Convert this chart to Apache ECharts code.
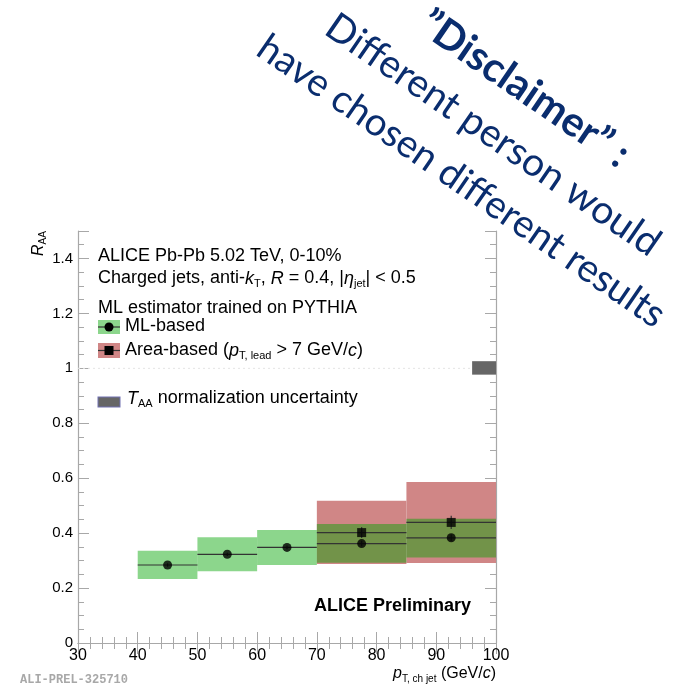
<!DOCTYPE html>
<html>
<head>
<meta charset="utf-8">
<script src="https://cdn.jsdelivr.net/npm/echarts@6/dist/echarts.min.js"></script>
<style>
  html, body { margin: 0; padding: 0; background: #fff; }
  #chart { width: 681px; height: 685px; }
</style>
</head>
<body>
<div id="chart"></div>
<script>
// pT bins (GeV/c)
const mlBinLo = [40, 50, 60, 70, 85];
const mlBinHi = [50, 60, 70, 85, 100];
const mlCenter = [45, 55, 65, 77.5, 92.5];
// ML-based R_AA with systematic band
const mlValue = [0.284, 0.323, 0.348, 0.362, 0.383];
const mlSysLo = [0.233, 0.261, 0.284, 0.292, 0.311];
const mlSysHi = [0.336, 0.385, 0.411, 0.433, 0.452];
const mlStat = [0.006, 0.006, 0.007, 0.010, 0.012];

// Area-based R_AA (pT,lead > 7 GeV/c)
const areaBinLo = [70, 85];
const areaBinHi = [85, 100];
const areaCenter = [77.5, 92.5];
const areaValue = [0.402, 0.439];
const areaSysLo = [0.288, 0.291];
const areaSysHi = [0.518, 0.586];
const areaStat = [0.020, 0.024];

// T_AA normalization uncertainty box at unity
const taaBox = [96, 100, 0.977, 1.026];

const xTicks = [30, 40, 50, 60, 70, 80, 90, 100];
const yTicks = [0, 0.2, 0.4, 0.6, 0.8, 1, 1.2, 1.4];

const GREEN = 'rgba(0,164,0,0.45)';
const RED = 'rgb(208,134,134)';
const FONT = '"Liberation Sans", Arial, sans-serif';
const FS = 18;

function boxSeries(name, lo, hi, ylo, yhi, color, z) {
  return {
    name, type: 'custom', z,
    data: lo.map((v, i) => [v, hi[i], ylo[i], yhi[i]]),
    renderItem(params, api) {
      const p0 = api.coord([api.value(0), api.value(3)]);
      const p1 = api.coord([api.value(1), api.value(2)]);
      return { type: 'rect', shape: { x: p0[0], y: p0[1], width: p1[0] - p0[0], height: p1[1] - p0[1] },
               style: { fill: color } };
    }
  };
}

function errSeries(name, center, lo, hi, val, stat, z) {
  return {
    name, type: 'custom', z,
    data: center.map((c, i) => [c, lo[i], hi[i], val[i], stat[i]]),
    renderItem(params, api) {
      const y = api.value(3), s = api.value(4);
      const a = api.coord([api.value(1), y]);
      const b = api.coord([api.value(2), y]);
      const u = api.coord([api.value(0), y + s]);
      const d = api.coord([api.value(0), y - s]);
      const st = { stroke: '#333', lineWidth: 1.2 };
      return { type: 'group', children: [
        { type: 'line', shape: { x1: a[0], y1: a[1], x2: b[0], y2: b[1] }, style: st },
        { type: 'line', shape: { x1: u[0], y1: u[1], x2: d[0], y2: d[1] }, style: st }
      ]};
    }
  };
}

const axisCommon = {
  axisLine: { show: true, lineStyle: { color: '#a8a8a8', width: 1.2 } },
  splitLine: { show: false }
};
const tickStyle = { color: '#a8a8a8' };

const chart = echarts.init(document.getElementById('chart'), null, { renderer: 'canvas' });

const disclaimerColor = '#0a2d6e';
const discFont = 'Lato, "Open Sans", sans-serif';

chart.setOption({
  animation: false,
  backgroundColor: '#fff',
  grid: { left: 78, right: 185, top: 231, bottom: 42 },
  xAxis: [
    Object.assign({}, axisCommon, {
      type: 'value', min: xTicks[0], max: xTicks[xTicks.length - 1], interval: 10, position: 'bottom',
      axisTick: { show: true, inside: true, length: 11, lineStyle: tickStyle },
      minorTick: { show: true, splitNumber: 5, length: 6, lineStyle: tickStyle },
      axisLabel: { color: '#000', fontFamily: FONT, fontSize: 16, margin: 5 }
    }),
    Object.assign({}, axisCommon, {
      type: 'value', min: xTicks[0], max: xTicks[xTicks.length - 1], interval: 10, position: 'top',
      axisTick: { show: true, inside: true, length: 11, lineStyle: tickStyle },
      minorTick: { show: true, splitNumber: 5, length: 6, lineStyle: tickStyle },
      axisLabel: { show: false }
    })
  ],
  yAxis: [
    Object.assign({}, axisCommon, {
      type: 'value', min: 0, max: 1.5, interval: 0.2, position: 'left',
      axisTick: { show: true, inside: true, length: 11, lineStyle: tickStyle },
      minorTick: { show: true, splitNumber: 4, length: 6, lineStyle: tickStyle },
      axisLabel: { color: '#000', fontFamily: FONT, fontSize: 15, margin: 5, showMaxLabel: false,
                   formatter: v => yTicks.indexOf(+v.toFixed(1)) >= 0 ? String(+v.toFixed(1)) : '' }
    }),
    Object.assign({}, axisCommon, {
      type: 'value', min: 0, max: 1.5, interval: 0.2, position: 'right',
      axisTick: { show: true, inside: true, length: 11, lineStyle: tickStyle },
      minorTick: { show: true, splitNumber: 4, length: 6, lineStyle: tickStyle },
      axisLabel: { show: false }
    })
  ],
  series: [
    // faint reference line at unity
    { name: 'unity', type: 'line', z: 1, symbol: 'none', silent: true,
      lineStyle: { color: '#e4e4e4', type: [2, 3], width: 1 },
      data: [[xTicks[0], 1], [xTicks[xTicks.length - 1], 1]] },
    boxSeries('Area-based sys', areaBinLo, areaBinHi, areaSysLo, areaSysHi, RED, 2),
    boxSeries('ML-based sys', mlBinLo, mlBinHi, mlSysLo, mlSysHi, GREEN, 3),
    boxSeries('TAA', [taaBox[0]], [taaBox[1]], [taaBox[2]], [taaBox[3]], '#666', 3),
    errSeries('Area-based err', areaCenter, areaBinLo, areaBinHi, areaValue, areaStat, 4),
    errSeries('ML-based err', mlCenter, mlBinLo, mlBinHi, mlValue, mlStat, 4),
    { name: 'Area-based', type: 'scatter', z: 5, symbol: 'rect', symbolSize: 9,
      itemStyle: { color: '#000' }, data: areaCenter.map((c, i) => [c, areaValue[i]]) },
    { name: 'ML-based', type: 'scatter', z: 5, symbol: 'circle', symbolSize: 9,
      itemStyle: { color: '#000' }, data: mlCenter.map((c, i) => [c, mlValue[i]]) }
  ],
  graphic: [
    // y-axis title
    { type: 'text', x: 48, y: 256, rotation: Math.PI / 2,
      style: { text: '{i|R}{s|AA}', fill: '#000', verticalAlign: 'bottom',
               rich: { i: { fontFamily: FONT, fontStyle: 'italic', fontSize: 16 },
                       s: { fontFamily: FONT, fontSize: 10, padding: [8, 0, 0, 0] } } } },
    // x-axis title
    { type: 'text', x: 496, y: 684,
      style: { text: '{i|p}{s|T, ch jet}{n| (GeV/}{i|c}{n|)}', fill: '#000', align: 'right', verticalAlign: 'bottom',
               rich: { i: { fontFamily: FONT, fontStyle: 'italic', fontSize: 16 },
                       n: { fontFamily: FONT, fontSize: 16 },
                       s: { fontFamily: FONT, fontSize: 10, padding: [10, 0, 0, 0] } } } },
    // header text
    { type: 'text', x: 98, y: 247,
      style: { text: 'ALICE Pb-Pb 5.02 TeV, 0-10%', fill: '#000', font: FS + 'px ' + FONT } },
    { type: 'text', x: 98, y: 268,
      style: { text: '{n|Charged jets, anti-}{i|k}{s|T}{n|, }{i|R}{n| = 0.4, |}{i|η}{s|jet}{n|| < 0.5}', fill: '#000',
               rich: { n: { fontFamily: FONT, fontSize: FS },
                       i: { fontFamily: FONT, fontStyle: 'italic', fontSize: FS },
                       s: { fontFamily: FONT, fontSize: 11, padding: [10, 0, 0, 0] } } } },
    { type: 'text', x: 98, y: 299,
      style: { text: 'ML estimator trained on PYTHIA', fill: '#000', font: FS + 'px ' + FONT } },
    // legend: ML-based
    { type: 'rect', shape: { x: 98, y: 320, width: 22, height: 14 }, style: { fill: 'rgb(140,214,140)' } },
    { type: 'line', shape: { x1: 98, y1: 327, x2: 120, y2: 327 }, style: { stroke: '#333', lineWidth: 1.2 } },
    { type: 'circle', shape: { cx: 109, cy: 327, r: 4.5 }, style: { fill: '#000' } },
    { type: 'text', x: 125, y: 317,
      style: { text: 'ML-based', fill: '#000', font: FS + 'px ' + FONT } },
    // legend: Area-based
    { type: 'rect', shape: { x: 98, y: 343, width: 22, height: 15 }, style: { fill: RED } },
    { type: 'line', shape: { x1: 98, y1: 350.5, x2: 120, y2: 350.5 }, style: { stroke: '#333', lineWidth: 1.2 } },
    { type: 'rect', shape: { x: 104.5, y: 346, width: 9, height: 9 }, style: { fill: '#000' } },
    { type: 'text', x: 125, y: 340,
      style: { text: '{n|Area-based (}{i|p}{s|T, lead}{n| > 7 GeV/}{i|c}{n|)}', fill: '#000',
               rich: { n: { fontFamily: FONT, fontSize: FS },
                       i: { fontFamily: FONT, fontStyle: 'italic', fontSize: FS },
                       s: { fontFamily: FONT, fontSize: 11, padding: [10, 0, 0, 0] } } } },
    // legend: T_AA
    { type: 'rect', shape: { x: 97.5, y: 396.5, width: 23, height: 11 }, style: { fill: '#7070b0' } },
    { type: 'rect', shape: { x: 98.5, y: 397.5, width: 21, height: 9 }, style: { fill: '#666' } },
    { type: 'text', x: 127, y: 388,
      style: { text: '{i|T}{s|AA}{n| normalization uncertainty}', fill: '#000',
               rich: { n: { fontFamily: FONT, fontSize: FS },
                       i: { fontFamily: FONT, fontStyle: 'italic', fontSize: FS },
                       s: { fontFamily: FONT, fontSize: 11, padding: [10, 0, 0, 0] } } } },
    // preliminary tag
    { type: 'text', x: 314, y: 597,
      style: { text: 'ALICE Preliminary', fill: '#000', font: 'bold 18px ' + FONT } },
    { type: 'text', x: 20, y: 674,
      style: { text: 'ALI-PREL-325710', fill: '#a8a8a8', font: 'bold 12px "Liberation Mono", monospace' } },
    // diagonal disclaimer
    { type: 'group', x: 493, y: 135, rotation: -34.5 * Math.PI / 180,
      children: [
        { type: 'text', x: 0, y: -56,
          style: { text: '”Disclaimer” :', fill: disclaimerColor, font: 'bold 41px ' + discFont,
                   align: 'center', verticalAlign: 'middle' } },
        { type: 'text', x: 0, y: 0,
          style: { text: 'Different person would', fill: disclaimerColor, font: '39px ' + discFont,
                   align: 'center', verticalAlign: 'middle' } },
        { type: 'text', x: 0, y: 56,
          style: { text: 'have chosen different results', fill: disclaimerColor, font: '38.5px ' + discFont,
                   align: 'center', verticalAlign: 'middle' } }
      ] }
  ]
});
</script>
</body>
</html>
